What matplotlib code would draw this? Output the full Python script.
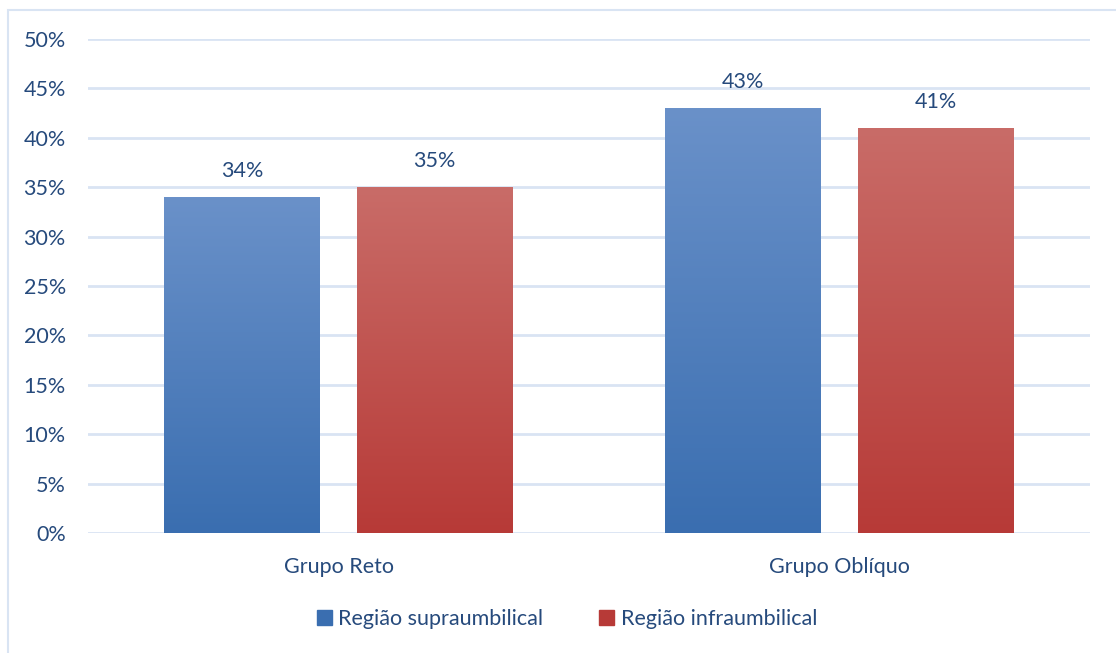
import numpy as np
import matplotlib.pyplot as plt
from matplotlib.patches import Rectangle
from matplotlib.colors import LinearSegmentedColormap

plt.rcParams['font.family'] = ['Lato', 'DejaVu Sans']

grupos = ["Grupo Reto", "Grupo Oblíquo"]
series = ["Região supraumbilical", "Região infraumbilical"]
supra = [0.34, 0.43]
infra = [0.35, 0.41]
yticks = [0, 0.05, 0.10, 0.15, 0.20, 0.25, 0.30, 0.35, 0.40, 0.45, 0.50]

txt = "#264a7c"
grid_c = "#d9e4f3"
fs = 15.5
# gradient ends: top colour, bottom colour
blue = ("#6a91c9", "#3a6eb0")
red = ("#c96c68", "#b73a37")

fig = plt.figure(figsize=(11.16, 6.53), dpi=100)
ax = fig.add_axes([88 / 1116, 120 / 653, 1002 / 1116, 494 / 653])

# outer frame (left/top edges visible)
fig.patches.append(Rectangle((8 / 1116, -0.1), 1.2, (653 - 10) / 653 + 0.1,
                             transform=fig.transFigure, fill=False,
                             edgecolor=grid_c, lw=1.5))

ax.set_xlim(-0.5, 1.5)
ax.set_ylim(0, 0.5)

for y in yticks:
    ax.axhline(y, color=grid_c, lw=2, zorder=0)


def grad_bar(x, h, w, cols):
    cmap = LinearSegmentedColormap.from_list("g", [cols[1], cols[0]])
    grad = np.linspace(0, 1, 256).reshape(-1, 1)
    im = ax.imshow(grad, cmap=cmap, origin="lower", aspect="auto",
                   extent=(x - w / 2, x + w / 2, 0, h), zorder=2)
    r = Rectangle((x - w / 2, 0), w, h, transform=ax.transData,
                  facecolor="none", edgecolor="none")
    ax.add_patch(r)
    im.set_clip_path(r)
    ax.text(x, h + 0.016, f"{round(h * 100)}%", ha="center", va="bottom",
            color=txt, fontsize=fs)


w = 0.311
off = 0.192
xs = np.arange(len(grupos))
for i in xs:
    grad_bar(i - off, supra[i], w, blue)
    grad_bar(i + off, infra[i], w, red)

ax.set_xlim(-0.5, 1.5)
ax.set_ylim(0, 0.5)
ax.set_yticks(yticks)
ax.set_yticklabels([f"{round(v * 100)}%" for v in yticks])
ax.set_xticks(xs)
ax.set_xticklabels(grupos)
ax.tick_params(axis="both", length=0, colors=txt, labelsize=fs)
ax.tick_params(axis="y", pad=16)
ax.tick_params(axis="x", pad=17)
for s in ax.spines.values():
    s.set_visible(False)

# legend
handles = [Rectangle((0, 0), 1, 1, color=blue[1]), Rectangle((0, 0), 1, 1, color=red[1])]
fig.legend(handles, series, loc="center", bbox_to_anchor=(0.508, 34 / 653),
           ncol=2, frameon=False, fontsize=fs, labelcolor=txt,
           handlelength=0.7, handleheight=0.7, handletextpad=0.3, columnspacing=2.6)

fig.savefig("out.png", dpi=100)
